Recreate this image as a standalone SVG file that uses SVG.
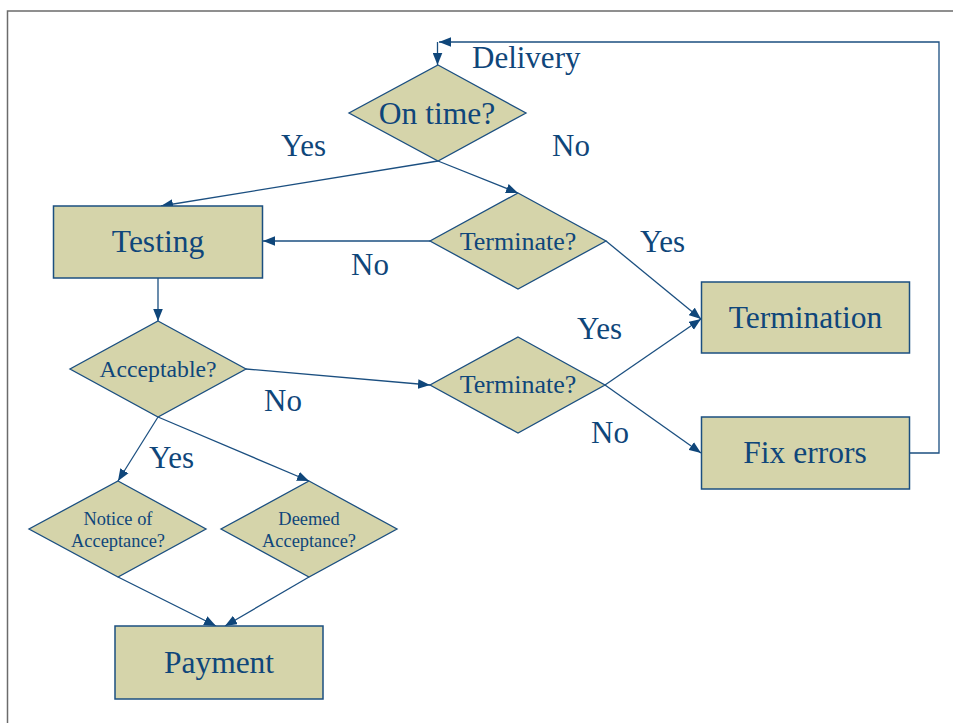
<svg xmlns="http://www.w3.org/2000/svg" width="953" height="723" viewBox="0 0 953 723">
<style>
.box{fill:#d5d4aa;stroke:#1b4f80;stroke-width:1.5}
.dia{fill:#d5d4aa;stroke:#1b4f80;stroke-width:1.3}
.t{font-family:"Liberation Serif","Times New Roman",serif;fill:#0f467a;text-anchor:middle}
.big{font-size:31.5px}
.mid{font-size:26px}
.acc{font-size:23.7px}
.sm{font-size:18.4px}
.lbl{font-family:"Liberation Serif","Times New Roman",serif;fill:#0f467a;font-size:31px}
.c{fill:none;stroke:#1b4f80;stroke-width:1.3}
.frame{fill:none;stroke:#6b6b6b;stroke-width:1.5}
</style>
<defs>
<marker id="ah" viewBox="0 0 10 8" refX="10" refY="4" markerWidth="12" markerHeight="10" markerUnits="userSpaceOnUse" orient="auto">
<path d="M0,0 L10,4 L0,8 Z" fill="#0f467a"/>
</marker>
</defs>
<rect width="953" height="723" fill="#ffffff"/>
<path class="frame" d="M7.5,723 V11 H953"/>

<g id="connectors">
<polyline class="c" points="909,453 939,453 939,42 439,42" marker-end="url(#ah)"/>
<line class="c" x1="437.5" y1="42" x2="437.5" y2="65" marker-end="url(#ah)"/>
<line class="c" x1="438" y1="161" x2="161" y2="206" marker-end="url(#ah)"/>
<line class="c" x1="438" y1="161" x2="518" y2="193" marker-end="url(#ah)"/>
<line class="c" x1="430" y1="241" x2="263" y2="241" marker-end="url(#ah)"/>
<line class="c" x1="606" y1="241" x2="701" y2="319" marker-end="url(#ah)"/>
<line class="c" x1="158" y1="278" x2="158" y2="321" marker-end="url(#ah)"/>
<line class="c" x1="246" y1="369" x2="430" y2="385" marker-end="url(#ah)"/>
<line class="c" x1="605" y1="385" x2="701" y2="319" marker-end="url(#ah)"/>
<line class="c" x1="605" y1="385" x2="701" y2="453" marker-end="url(#ah)"/>
<line class="c" x1="158" y1="417" x2="118" y2="481" marker-end="url(#ah)"/>
<line class="c" x1="158" y1="417" x2="309" y2="481" marker-end="url(#ah)"/>
<line class="c" x1="118" y1="577" x2="216" y2="626" marker-end="url(#ah)"/>
<line class="c" x1="309" y1="577" x2="225" y2="626" marker-end="url(#ah)"/>
</g>

<g id="labels">
<text class="lbl" x="472" y="68">Delivery</text>
<text class="lbl" x="281" y="156">Yes</text>
<text class="lbl" x="552" y="156">No</text>
<text class="lbl" x="640" y="252">Yes</text>
<text class="lbl" x="351" y="275">No</text>
<text class="lbl" x="577" y="339">Yes</text>
<text class="lbl" x="264" y="411">No</text>
<text class="lbl" x="591" y="443">No</text>
<text class="lbl" x="149" y="468">Yes</text>
</g>

<g id="ontime">
<polygon class="dia" points="438,65 526,113 438,161 349,113"/>
<text class="t big" x="437" y="124">On time?</text>
</g>
<g id="testing">
<rect class="box" x="53.5" y="206" width="209" height="72"/>
<text class="t big" x="158" y="252">Testing</text>
</g>
<g id="terminate1">
<polygon class="dia" points="518,193 606,241 518,289 430,241"/>
<text class="t mid" x="518" y="250">Terminate?</text>
</g>
<g id="termination">
<rect class="box" x="701.5" y="282" width="208" height="71"/>
<text class="t big" x="805.5" y="328">Termination</text>
</g>
<g id="acceptable">
<polygon class="dia" points="158,321 246,369 158,417 70,369"/>
<text class="t acc" x="158" y="377">Acceptable?</text>
</g>
<g id="terminate2">
<polygon class="dia" points="518,337 605,385 518,433 430,385"/>
<text class="t mid" x="518" y="393">Terminate?</text>
</g>
<g id="fixerrors">
<rect class="box" x="701.5" y="417" width="208" height="72"/>
<text class="t big" x="805" y="463">Fix errors</text>
</g>
<g id="notice">
<polygon class="dia" points="118,481 206,529 118,577 29,529"/>
<text class="t sm" x="118" y="525">Notice of</text>
<text class="t sm" x="118" y="547">Acceptance?</text>
</g>
<g id="deemed">
<polygon class="dia" points="309,481 397,529 309,577 221,529"/>
<text class="t sm" x="309" y="525">Deemed</text>
<text class="t sm" x="309" y="547">Acceptance?</text>
</g>
<g id="payment">
<rect class="box" x="115" y="626" width="208" height="73"/>
<text class="t big" x="219" y="673">Payment</text>
</g>
</svg>
